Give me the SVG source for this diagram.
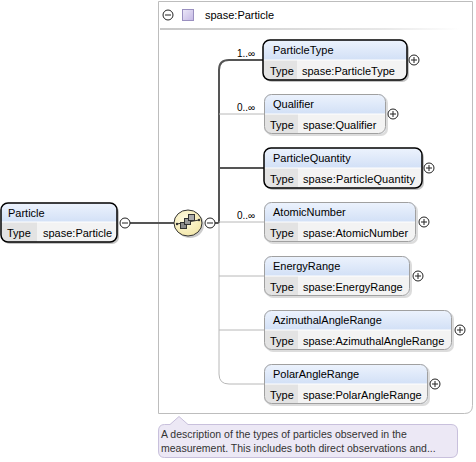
<svg xmlns="http://www.w3.org/2000/svg" width="476" height="462" viewBox="0 0 476 462">
<defs>
<linearGradient id="hdr" x1="0" y1="0" x2="0" y2="1">
<stop offset="0" stop-color="#edf3fd"/>
<stop offset="1" stop-color="#b7cdef"/>
</linearGradient>
<linearGradient id="sep" x1="0" y1="0" x2="1" y2="0">
<stop offset="0" stop-color="#c8c8c8"/>
<stop offset="0.75" stop-color="#e8e8e8"/>
<stop offset="1" stop-color="#ffffff"/>
</linearGradient>
<linearGradient id="purple" x1="0" y1="0" x2="1" y2="1">
<stop offset="0" stop-color="#ece8f8"/>
<stop offset="1" stop-color="#c4b8e4"/>
</linearGradient>
<radialGradient id="seqg" cx="0.4" cy="0.35" r="0.7">
<stop offset="0" stop-color="#fffbe0"/>
<stop offset="1" stop-color="#f2e6a8"/>
</radialGradient>
<clipPath id="c"><rect x="0" y="0" width="476" height="462"/></clipPath>
</defs>
<style>
text{font-family:"Liberation Sans",Arial,sans-serif;font-size:11px;fill:#000}
.card{font-size:10px}
.ann{font-size:10.5px;fill:#333}
.shadow{fill:#c4c4c4}
.req{stroke:#000;stroke-width:1.5}
.opt{stroke:#a0a0a0;stroke-width:1}
.tcell{fill:#e3e3e3}
.vcell{fill:#f3f3f3}
.div{stroke:#fff;stroke-width:1}
.thick{stroke:#555;stroke-width:2;fill:none}
.thin{stroke:#b8b8b8;stroke-width:1;fill:none}
.btn{fill:#fff;stroke:#222;stroke-width:1}
.sym{stroke:#222;stroke-width:1}
</style>

<g id="group-box">
<path d="M158.5,1.5 H472.5 V405.5 Q472.5,413.5 464.5,413.5 H158.5 Z" fill="#fff" stroke="#bdbdbd" stroke-width="1"/>
<rect x="160" y="28" width="300" height="2" fill="url(#sep)"/>
<circle cx="168" cy="15" r="5" class="btn"/>
<line x1="165" y1="15" x2="171" y2="15" class="sym"/>
<rect x="182.5" y="9.5" width="11" height="11" fill="url(#purple)" stroke="#9a90c0"/>
<text x="205" y="19">spase:Particle</text>
</g>

<g id="connectors">
<line x1="130" y1="223" x2="174" y2="223" class="thick"/>
<line x1="215" y1="223" x2="219" y2="223" class="thick"/>
<path d="M219,223 V70 Q219,60 229,60 H263" class="thick"/>
<line x1="219" y1="168" x2="264" y2="168" class="thick"/>
<path d="M219,223 V374 Q219,384 229,384 H264" class="thin"/>
<line x1="219" y1="114" x2="264" y2="114" class="thin"/>
<line x1="219" y1="222" x2="264" y2="222" class="thin"/>
<line x1="219" y1="276" x2="264" y2="276" class="thin"/>
<line x1="219" y1="330" x2="264" y2="330" class="thin"/>
<text x="237" y="57" class="card">1..∞</text>
<text x="237" y="111" class="card">0..∞</text>
<text x="237" y="219" class="card">0..∞</text>
</g>

<g id="Particle">
<rect x="3" y="205" width="116" height="39" rx="7" class="shadow"/>
<rect x="1" y="203" width="116" height="39" rx="7" fill="url(#hdr)"/>
<path d="M1,222 H117 V235 Q117,242 110,242 H8 Q1,242 1,235 Z" class="vcell"/>
<path d="M1,222 H37 V242 H8 Q1,242 1,235 Z" class="tcell"/>
<line x1="1" y1="222" x2="117" y2="222" class="div"/>
<rect x="1" y="203" width="116" height="39" rx="7" fill="none" class="req"/>
<text x="8" y="217">Particle</text>
<text x="7" y="237">Type</text>
<text x="43" y="237">spase:Particle</text>
<circle cx="125" cy="223" r="5" class="btn"/>
<line x1="122" y1="223" x2="128" y2="223" class="sym"/>
</g>

<g id="sequence">
<ellipse cx="190" cy="225" rx="14" ry="13" fill="#999" opacity="0.5"/>
<ellipse cx="188" cy="223" rx="14" ry="13" fill="url(#seqg)" stroke="#333" stroke-width="1"/>
<line x1="177" y1="224" x2="199" y2="220" stroke="#333" stroke-width="1"/>
<circle cx="177" cy="224" r="1.2" fill="#333"/>
<circle cx="199" cy="220" r="1.2" fill="#333"/>
<rect x="180.5" y="222.5" width="6" height="6" fill="#8a8a8a" stroke="#333"/>
<rect x="184.5" y="218.5" width="6" height="6" fill="#9a9a9a" stroke="#333"/>
<rect x="188.5" y="214.5" width="6" height="6" fill="#aaa" stroke="#333"/>
<circle cx="210" cy="223" r="5" class="btn"/>
<line x1="207" y1="223" x2="213" y2="223" class="sym"/>
</g>

<g id="ParticleType">
<rect x="265" y="42" width="144" height="40" rx="7" class="shadow"/>
<rect x="263" y="40" width="144" height="40" rx="7" fill="url(#hdr)"/>
<path d="M263,60 H407 V73 Q407,80 400,80 H270 Q263,80 263,73 Z" class="vcell"/>
<path d="M263,60 H297 V80 H270 Q263,80 263,73 Z" class="tcell"/>
<line x1="263" y1="60" x2="407" y2="60" class="div"/>
<rect x="263" y="40" width="144" height="40" rx="7" fill="none" class="req"/>
<text x="273" y="54">ParticleType</text>
<text x="270" y="75">Type</text>
<text x="302" y="75">spase:ParticleType</text>
<circle cx="414" cy="60" r="5" class="btn"/>
<line x1="411" y1="60" x2="417" y2="60" class="sym"/><line x1="414" y1="57" x2="414" y2="63" class="sym"/>
</g>

<g id="Qualifier">
<rect x="266" y="96" width="122" height="40" rx="7" class="shadow" opacity="0.6"/>
<rect x="264" y="94" width="122" height="40" rx="7" fill="url(#hdr)"/>
<path d="M264,114 H386 V127 Q386,134 379,134 H271 Q264,134 264,127 Z" class="vcell"/>
<path d="M264,114 H298 V134 H271 Q264,134 264,127 Z" class="tcell"/>
<line x1="264" y1="114" x2="386" y2="114" class="div"/>
<rect x="264.5" y="94.5" width="121" height="39" rx="7" fill="none" class="opt"/>
<text x="273" y="108">Qualifier</text>
<text x="270" y="129">Type</text>
<text x="303" y="129">spase:Qualifier</text>
<circle cx="393" cy="114" r="5" class="btn"/>
<line x1="390" y1="114" x2="396" y2="114" class="sym"/><line x1="393" y1="111" x2="393" y2="117" class="sym"/>
</g>

<g id="ParticleQuantity">
<rect x="266" y="150" width="158" height="40" rx="7" class="shadow"/>
<rect x="264" y="148" width="158" height="40" rx="7" fill="url(#hdr)"/>
<path d="M264,168 H422 V181 Q422,188 415,188 H271 Q264,188 264,181 Z" class="vcell"/>
<path d="M264,168 H298 V188 H271 Q264,188 264,181 Z" class="tcell"/>
<line x1="264" y1="168" x2="422" y2="168" class="div"/>
<rect x="264" y="148" width="158" height="40" rx="7" fill="none" class="req"/>
<text x="273" y="162">ParticleQuantity</text>
<text x="270" y="183">Type</text>
<text x="303" y="183" textLength="112">spase:ParticleQuantity</text>
<circle cx="429" cy="168" r="5" class="btn"/>
<line x1="426" y1="168" x2="432" y2="168" class="sym"/><line x1="429" y1="165" x2="429" y2="171" class="sym"/>
</g>

<g id="AtomicNumber">
<rect x="266" y="204" width="152" height="40" rx="7" class="shadow" opacity="0.6"/>
<rect x="264" y="202" width="152" height="40" rx="7" fill="url(#hdr)"/>
<path d="M264,222 H416 V235 Q416,242 409,242 H271 Q264,242 264,235 Z" class="vcell"/>
<path d="M264,222 H298 V242 H271 Q264,242 264,235 Z" class="tcell"/>
<line x1="264" y1="222" x2="416" y2="222" class="div"/>
<rect x="264.5" y="202.5" width="151" height="39" rx="7" fill="none" class="opt"/>
<text x="273" y="216">AtomicNumber</text>
<text x="270" y="237">Type</text>
<text x="303" y="237">spase:AtomicNumber</text>
<circle cx="424" cy="222" r="5" class="btn"/>
<line x1="421" y1="222" x2="427" y2="222" class="sym"/><line x1="424" y1="219" x2="424" y2="225" class="sym"/>
</g>

<g id="EnergyRange">
<rect x="266" y="258" width="146" height="40" rx="7" class="shadow" opacity="0.6"/>
<rect x="264" y="256" width="146" height="40" rx="7" fill="url(#hdr)"/>
<path d="M264,276 H410 V289 Q410,296 403,296 H271 Q264,296 264,289 Z" class="vcell"/>
<path d="M264,276 H298 V296 H271 Q264,296 264,289 Z" class="tcell"/>
<line x1="264" y1="276" x2="410" y2="276" class="div"/>
<rect x="264.5" y="256.5" width="145" height="39" rx="7" fill="none" class="opt"/>
<text x="273" y="270">EnergyRange</text>
<text x="270" y="291">Type</text>
<text x="303" y="291">spase:EnergyRange</text>
<circle cx="418" cy="276" r="5" class="btn"/>
<line x1="415" y1="276" x2="421" y2="276" class="sym"/><line x1="418" y1="273" x2="418" y2="279" class="sym"/>
</g>

<g id="AzimuthalAngleRange">
<rect x="266" y="312" width="188" height="40" rx="7" class="shadow" opacity="0.6"/>
<rect x="264" y="310" width="188" height="40" rx="7" fill="url(#hdr)"/>
<path d="M264,330 H452 V343 Q452,350 445,350 H271 Q264,350 264,343 Z" class="vcell"/>
<path d="M264,330 H298 V350 H271 Q264,350 264,343 Z" class="tcell"/>
<line x1="264" y1="330" x2="452" y2="330" class="div"/>
<rect x="264.5" y="310.5" width="187" height="39" rx="7" fill="none" class="opt"/>
<text x="273" y="324">AzimuthalAngleRange</text>
<text x="270" y="345">Type</text>
<text x="303" y="345">spase:AzimuthalAngleRange</text>
<circle cx="460" cy="330" r="5" class="btn"/>
<line x1="457" y1="330" x2="463" y2="330" class="sym"/><line x1="460" y1="327" x2="460" y2="333" class="sym"/>
</g>

<g id="PolarAngleRange">
<rect x="266" y="366" width="164" height="40" rx="7" class="shadow" opacity="0.6"/>
<rect x="264" y="364" width="164" height="40" rx="7" fill="url(#hdr)"/>
<path d="M264,384 H428 V397 Q428,404 421,404 H271 Q264,404 264,397 Z" class="vcell"/>
<path d="M264,384 H298 V404 H271 Q264,404 264,397 Z" class="tcell"/>
<line x1="264" y1="384" x2="428" y2="384" class="div"/>
<rect x="264.5" y="364.5" width="163" height="39" rx="7" fill="none" class="opt"/>
<text x="273" y="378">PolarAngleRange</text>
<text x="270" y="399">Type</text>
<text x="303" y="399">spase:PolarAngleRange</text>
<circle cx="435" cy="384" r="5" class="btn"/>
<line x1="432" y1="384" x2="438" y2="384" class="sym"/><line x1="435" y1="381" x2="435" y2="387" class="sym"/>
</g>

<g id="annotation">
<path d="M164.5,424.5 H170 L179,416.5 L188,424.5 H451 Q457.5,424.5 457.5,431 V451 Q457.5,457.5 451,457.5 H164.5 Q158.5,457.5 158.5,451 V431 Q158.5,424.5 164.5,424.5 Z" fill="#ece8f5" stroke="#c8c0dc" stroke-width="1"/>
<text x="161" y="438" class="ann">A description of the types of particles observed in the</text>
<text x="161" y="452" class="ann">measurement. This includes both direct observations and...</text>
</g>
</svg>
